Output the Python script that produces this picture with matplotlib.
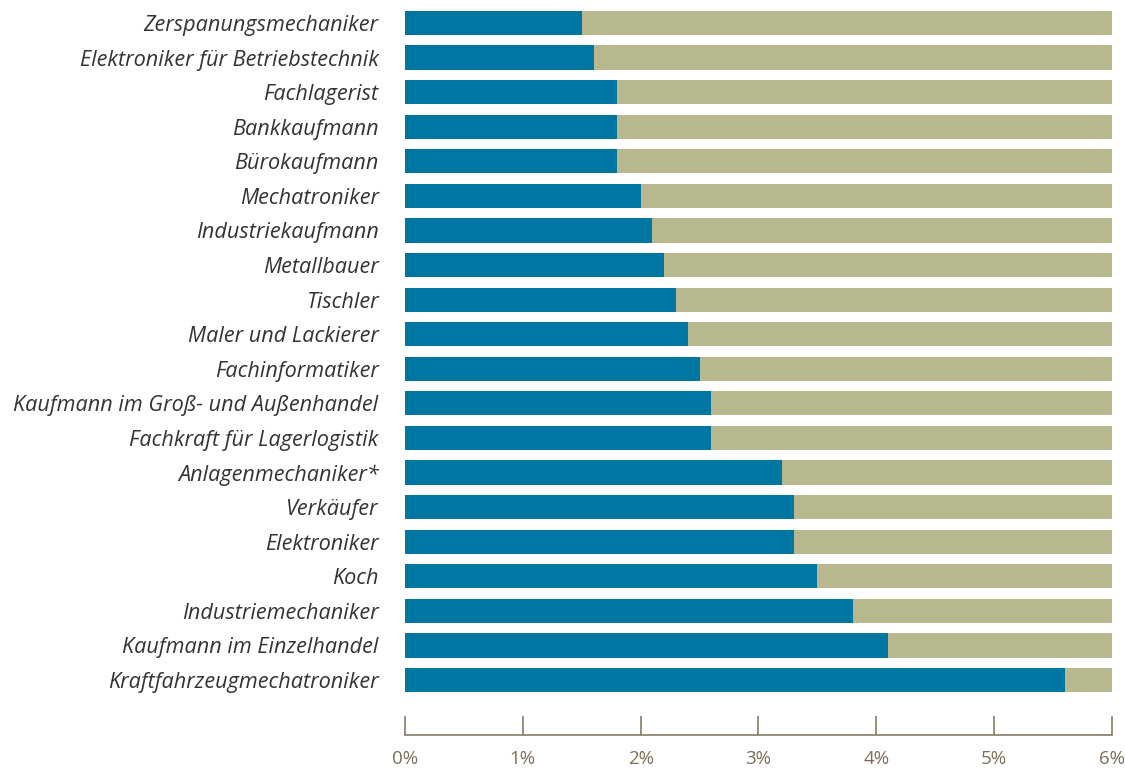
import matplotlib.pyplot as plt
import numpy as np

# Ausbildungsberufe, von oben nach unten
berufe = [
    "Zerspanungsmechaniker",
    "Elektroniker für Betriebstechnik",
    "Fachlagerist",
    "Bankkaufmann",
    "Bürokaufmann",
    "Mechatroniker",
    "Industriekaufmann",
    "Metallbauer",
    "Tischler",
    "Maler und Lackierer",
    "Fachinformatiker",
    "Kaufmann im Groß- und Außenhandel",
    "Fachkraft für Lagerlogistik",
    "Anlagenmechaniker*",
    "Verkäufer",
    "Elektroniker",
    "Koch",
    "Industriemechaniker",
    "Kaufmann im Einzelhandel",
    "Kraftfahrzeugmechatroniker",
]
anteile = [1.5, 1.6, 1.8, 1.8, 1.8, 2.0, 2.1, 2.2, 2.3, 2.4,
           2.5, 2.6, 2.6, 3.2, 3.3, 3.3, 3.5, 3.8, 4.1, 5.6]
x_max = 6
x_ticks = [0, 1, 2, 3, 4, 5, 6]
x_labels = ["0%", "1%", "2%", "3%", "4%", "5%", "6%"]

blue = "#0077a3"
tan = "#b7b88e"
axis_col = "#7d6f57"

fig = plt.figure(figsize=(11.25, 7.71), dpi=100)
ax = fig.add_axes([0.36, 0.0467, 0.6284, 0.9533])

pos = np.arange(len(berufe))
werte = np.array(anteile)
ax.barh(pos, werte, height=0.7, color=blue, linewidth=0)
ax.barh(pos, x_max - werte, left=werte, height=0.7, color=tan, linewidth=0)

ax.set_xlim(0, x_max)
ax.set_ylim(len(berufe) - 1 + 1.59, -0.665)

ax.set_yticks(pos)
ax.set_yticklabels(berufe, fontfamily="Open Sans", fontstyle="italic",
                   fontsize=15.6, color="#333333")
ax.tick_params(axis="y", length=0, pad=19)

ax.set_xticks(x_ticks)
ax.set_xticklabels(x_labels, fontfamily="Open Sans", fontsize=13.5, color=axis_col)
ax.tick_params(axis="x", direction="in", length=14, width=1.1,
               color=axis_col, pad=11)

for s in ["top", "right", "left"]:
    ax.spines[s].set_visible(False)
ax.spines["bottom"].set_color(axis_col)
ax.spines["bottom"].set_linewidth(1.1)

fig.savefig("out.png", dpi=100)
